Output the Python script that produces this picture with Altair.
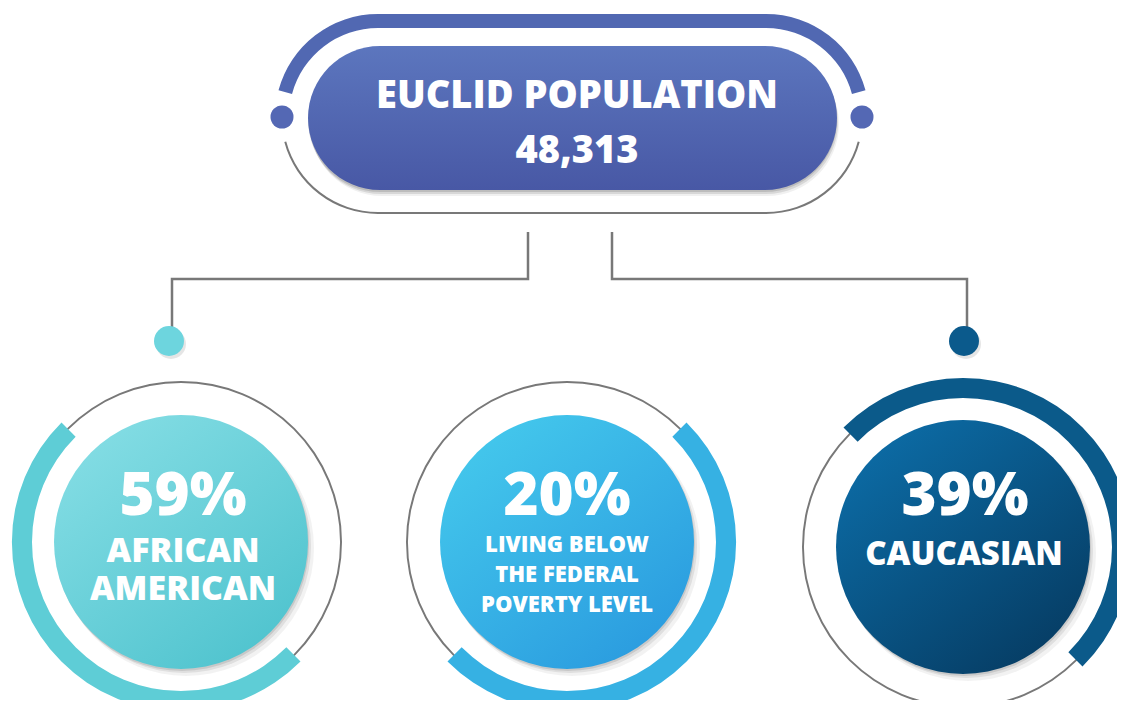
import math
import altair as alt
import pandas as pd

# ---------------- content ----------------
TITLE = "EUCLID POPULATION"
POPULATION = "48,313"
PCTS = ["59%", "20%", "39%"]
LABELS = [
    ["AFRICAN", "AMERICAN"],
    ["LIVING BELOW", "THE FEDERAL", "POVERTY LEVEL"],
    ["CAUCASIAN"],
]

# ---------------- styling / layout ----------------
W, H = 1109, 692
FONT = "Open Sans"
WEIGHT = 800
GRAY = "#787878"
BAND = "#5168b2"
PILL_TOP, PILL_BOT = "#5c76be", "#4858a5"

CIRCLE_CX = [181, 567, 963]
CIRCLE_CY = [542, 542, 547]
CIRCLE_FILL = [("#84dde4", "#4fc3ce"), ("#44c8ec", "#2a9bdf"), ("#0c6ca6", "#063c63")]
ARC_COLOR = ["#5ecdd6", "#36b1e3", "#0b5a8a"]
ARC_SPAN = [(135, 315), (45, 225), (315, 495)]  # degrees, clockwise from 12 o'clock
DOT_COLOR = ["#6dd5de", "#0b5a8c"]

XS = alt.Scale(domain=[8, 8 + W], range=[0, W], nice=False, zero=False)
YS = alt.Scale(domain=[8, 8 + H], range=[0, H], nice=False, zero=False)


def X(f="x"):
    return alt.X(f"{f}:Q", scale=XS, axis=None)


def Y(f="y"):
    return alt.Y(f"{f}:Q", scale=YS, axis=None)


def rad(d):
    return d * math.pi / 180.0


def sym(r):
    # Vega symbol size is the area of the bounding square
    return (2 * r) ** 2


layers = []

# ---- outer pill frame (top band + bottom grey line) ----
LCX, RCX, PCY, PR = 378, 766, 117, 96
band_h = pd.DataFrame({"x": [LCX], "x2": [RCX], "y": [PCY - PR]})
layers.append(alt.Chart(band_h).mark_rule(color=BAND, strokeWidth=14).encode(x=X(), x2="x2:Q", y=Y()))
gray_h = pd.DataFrame({"x": [LCX], "x2": [RCX], "y": [PCY + PR]})
layers.append(alt.Chart(gray_h).mark_rule(color=GRAY, strokeWidth=2).encode(x=X(), x2="x2:Q", y=Y()))
for cx, (a0, a1), (g0, g1) in [(LCX, (285, 360), (180, 255)), (RCX, (0, 75), (105, 180))]:
    d = pd.DataFrame({"x": [cx], "y": [PCY]})
    layers.append(alt.Chart(d).mark_arc(radius=PR - 7, radius2=PR + 7, theta=rad(a0), theta2=rad(a1),
                                        color=BAND).encode(x=X(), y=Y()))
    layers.append(alt.Chart(d).mark_arc(radius=PR - 1, radius2=PR + 1, theta=rad(g0), theta2=rad(g1),
                                        color=GRAY).encode(x=X(), y=Y()))
dots_top = pd.DataFrame({"x": [282, 862], "y": [PCY, PCY]})
layers.append(alt.Chart(dots_top).mark_circle(size=sym(11.5), color="#5468b4", opacity=1).encode(x=X(), y=Y()))

# ---- filled pill ----
for dx, dy, op in [(2, 6, 0.06), (1, 4, 0.10), (0, 2, 0.12)]:
    sh = pd.DataFrame({"x": [308 + dx], "x2": [837 + dx], "y": [46 + dy], "y2": [190 + dy]})
    layers.append(alt.Chart(sh).mark_rect(cornerRadius=72, color="#000000", opacity=op).encode(
        x=X(), x2="x2:Q", y=Y(), y2="y2:Q"))
pill = pd.DataFrame({"x": [308], "x2": [837], "y": [46], "y2": [190]})
layers.append(alt.Chart(pill).mark_rect(
    cornerRadius=72,
    fill=alt.Gradient(gradient="linear", x1=0, y1=0, x2=0, y2=1,
                      stops=[alt.GradientStop(color=PILL_TOP, offset=0),
                             alt.GradientStop(color=PILL_BOT, offset=1)]),
).encode(x=X(), x2="x2:Q", y=Y(), y2="y2:Q"))
title_df = pd.DataFrame({"x": [577, 577], "y": [108, 163], "t": [TITLE, POPULATION]})
layers.append(alt.Chart(title_df).mark_text(font=FONT, fontWeight=WEIGHT, fontSize=38, color="white",
                                            align="center", baseline="alphabetic").encode(
    x=X(), y=Y(), text="t:N"))

# ---- connectors ----
conn = pd.DataFrame({
    "g": ["l"] * 4 + ["r"] * 4,
    "o": [0, 1, 2, 3] * 2,
    "x": [528, 528, 172, 172, 612, 612, 967, 967],
    "y": [232, 279, 279, 327, 232, 279, 279, 327],
})
layers.append(alt.Chart(conn).mark_line(color=GRAY, strokeWidth=2.5, strokeJoin="miter", strokeCap="butt").encode(
    x=X(), y=Y(), detail="g:N", order="o:Q"))
for (cx, cy), col in zip([(169, 341), (964, 341)], DOT_COLOR):
    d = pd.DataFrame({"x": [cx + 2], "y": [cy + 3]})
    layers.append(alt.Chart(d).mark_circle(size=sym(15), color="#000000", opacity=0.10).encode(x=X(), y=Y()))
    d = pd.DataFrame({"x": [cx], "y": [cy]})
    layers.append(alt.Chart(d).mark_circle(size=sym(15), color=col, opacity=1).encode(x=X(), y=Y()))

# ---- stat circles ----
for i in range(3):
    cx, cy = CIRCLE_CX[i], CIRCLE_CY[i]
    d = pd.DataFrame({"x": [cx], "y": [cy]})
    # grey ring
    layers.append(alt.Chart(d).mark_arc(radius=159, radius2=161, theta=0, theta2=2 * math.pi,
                                        color=GRAY).encode(x=X(), y=Y()))
    # thick coloured arc
    a0, a1 = ARC_SPAN[i]
    layers.append(alt.Chart(d).mark_arc(radius=149, radius2=169, theta=rad(a0), theta2=rad(a1),
                                        color=ARC_COLOR[i]).encode(x=X(), y=Y()))
    # shadow
    for dx, dy, r, op in [(5, 6, 128, 0.05), (3, 4, 127, 0.08), (1, 2, 127, 0.10)]:
        sd = pd.DataFrame({"x": [cx + dx], "y": [cy + dy]})
        layers.append(alt.Chart(sd).mark_circle(size=sym(r), color="#000000", opacity=op).encode(x=X(), y=Y()))
    c0, c1 = CIRCLE_FILL[i]
    layers.append(alt.Chart(d).mark_circle(
        size=sym(127), opacity=1,
        fill=alt.Gradient(gradient="linear", x1=0.15, y1=0.05, x2=0.85, y2=0.95,
                          stops=[alt.GradientStop(color=c0, offset=0),
                                 alt.GradientStop(color=c1, offset=1)]),
    ).encode(x=X(), y=Y()))

# ---- circle texts ----
pct_df = pd.DataFrame({"x": [183, 567, 965], "y": [515, 515, 515], "t": PCTS})
layers.append(alt.Chart(pct_df).mark_text(font=FONT, fontWeight=WEIGHT, fontSize=60, color="white",
                                          align="center", baseline="alphabetic").encode(x=X(), y=Y(), text="t:N"))
lab_rows = []
lab_x = [183, 567, 964]
lab_y = [[562, 600], [552, 582, 612], [565]]
lab_size = [34, 22, 33]
for i, lines in enumerate(LABELS):
    for j, s in enumerate(lines):
        lab_rows.append({"x": lab_x[i], "y": lab_y[i][j], "t": s, "s": lab_size[i]})
lab_df = pd.DataFrame(lab_rows)
layers.append(alt.Chart(lab_df).mark_text(font=FONT, fontWeight=WEIGHT, color="white",
                                          align="center", baseline="alphabetic").encode(
    x=X(), y=Y(), text="t:N", size=alt.Size("s:Q", scale=None, legend=None)))

chart = alt.layer(*layers).properties(
    width=W, height=H, padding=0, background="white",
    autosize=alt.AutoSizeParams(type="none"),
).configure_view(stroke=None, strokeWidth=0)

chart.save("out.html", embed_options={"renderer": "svg", "actions": False})
